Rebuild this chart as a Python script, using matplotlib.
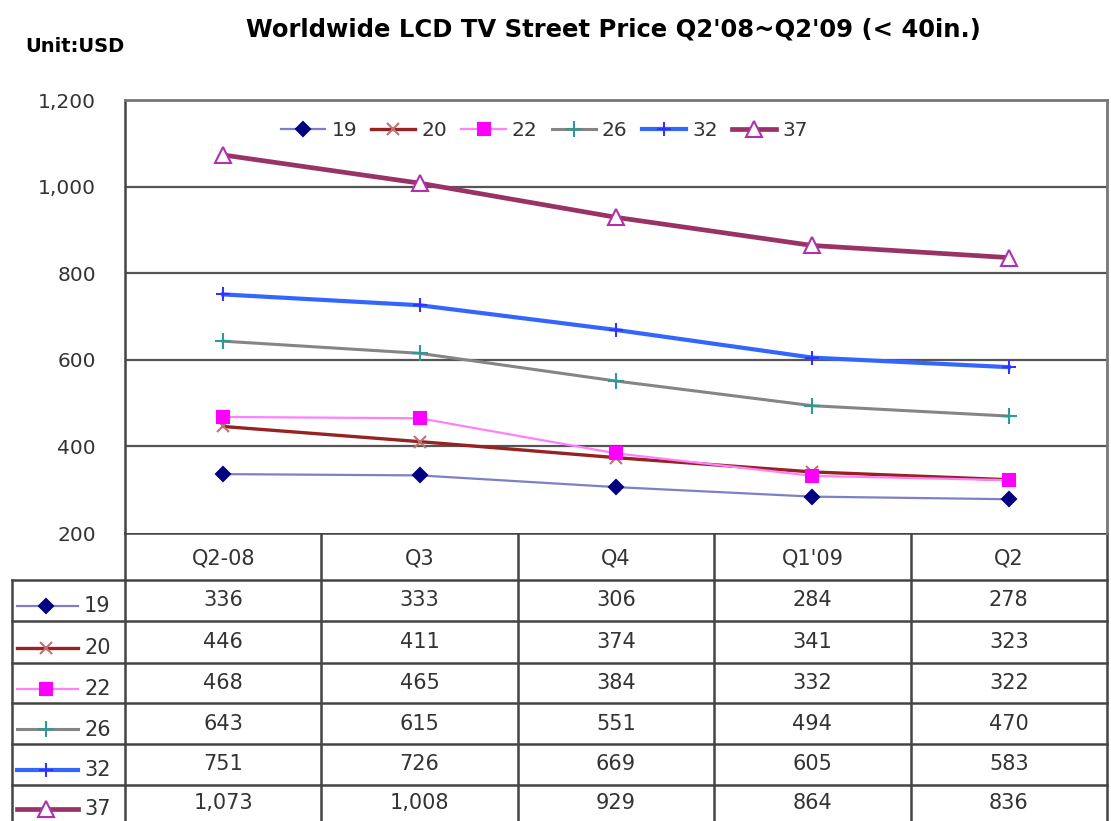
import matplotlib
matplotlib.use("Agg")
from matplotlib import pyplot as plt
from matplotlib.lines import Line2D

# data
quarters = ["Q2-08", "Q3", "Q4", "Q1'09", "Q2"]
sizes = ["19", "20", "22", "26", "32", "37"]
price_19 = [336, 333, 306, 284, 278]
price_20 = [446, 411, 374, 341, 323]
price_22 = [468, 465, 384, 332, 322]
price_26 = [643, 615, 551, 494, 470]
price_32 = [751, 726, 669, 605, 583]
price_37 = [1073, 1008, 929, 864, 836]
series = [price_19, price_20, price_22, price_26, price_32, price_37]

# line styles: (line colour, width, marker, marker size, marker face, marker edge)
styles = [
    ("#7f7fc8", 1.6, "D", 7, "#000080", "#000080"),
    ("#962222", 2.4, "x", 9, "#c07070", "#c07070"),
    ("#ff80ff", 1.6, "s", 9, "#ff00ff", "#ff00ff"),
    ("#858585", 2.2, "+", 11, "#2e9a96", "#2e9a96"),
    ("#3366ff", 3.0, "+", 10, "#3333ff", "#3333ff"),
    ("#993366", 3.4, "^", 11, "white", "#b030b0"),
]

W, H = 1111, 821
fig = plt.figure(figsize=(W / 100, H / 100), dpi=100)
plt.rcParams["font.family"] = "DejaVu Sans"

# pixel layout
left, right, top, bottom = 125, 1107, 100, 533
ax = fig.add_axes([left / W, 1 - bottom / H, (right - left) / W, (bottom - top) / H])

xs = list(range(len(quarters)))
for name, vals, st in zip(sizes, series, styles):
    col, lw, mk, ms, mfc, mec = st
    ax.plot(xs, vals, color=col, lw=lw, marker=mk, ms=ms, mfc=mfc, mec=mec,
            mew=1.5, label=name, zorder=3, clip_on=False)

ax.set_xlim(-0.5, len(quarters) - 0.5)
ax.set_ylim(200, 1200)
ax.set_yticks(range(200, 1201, 200))
ax.set_yticklabels([f"{v:,}" for v in range(200, 1201, 200)], fontsize=14.5, color="#333333")
ax.tick_params(axis="y", length=0, pad=21)
ax.set_xticks([])
for y in range(400, 1001, 200):
    ax.axhline(y, color="#555555", lw=1.6, zorder=1)
for s in ["top", "right"]:
    ax.spines[s].set_color("#777777")
    ax.spines[s].set_linewidth(2)
ax.spines["left"].set_color("#444444")
ax.spines["left"].set_linewidth(1.8)
ax.spines["bottom"].set_visible(False)

leg = ax.legend(ncol=6, loc="center", bbox_to_anchor=(0.427, 0.93), frameon=False,
                fontsize=14.5, handlelength=2.2, handletextpad=0.3, columnspacing=0.7,
                borderaxespad=0)
for t in leg.get_texts():
    t.set_color("#333333")

# title
fig.text(613 / W, 1 - 29 / H, "Worldwide LCD TV Street Price Q2'08~Q2'09 (< 40in.)",
         ha="center", va="center", fontsize=17.5, fontweight="bold")
fig.text(25 / W, 1 - 46 / H, "Unit:USD", ha="left", va="center", fontsize=14,
         fontweight="bold")

# data table below the chart
tax = fig.add_axes([0, 0, 1, 1], zorder=-1)
tax.set_xlim(0, W)
tax.set_ylim(H, 0)
tax.axis("off")

col_edges = [left + i * (right - left) / len(quarters) for i in range(len(quarters) + 1)]
row_edges = [533, 580, 621, 663, 703, 744, 785, 830]
lc = "#444444"
tax.plot([left, right], [row_edges[0]] * 2, color=lc, lw=1.8)
for y in row_edges[1:-1]:
    tax.plot([12, right], [y, y], color=lc, lw=1.8)
for x in col_edges:
    tax.plot([x, x], [row_edges[0], H], color=lc, lw=1.8)
tax.plot([12, 12], [row_edges[1], H], color=lc, lw=1.8)

for i, q in enumerate(quarters):
    cx = (col_edges[i] + col_edges[i + 1]) / 2
    tax.text(cx, (row_edges[0] + row_edges[1]) / 2 + 2, q, ha="center", va="center",
             fontsize=15, color="#333333")
    for r, vals in enumerate(series):
        cy = (row_edges[r + 1] + row_edges[r + 2]) / 2
        if r == len(series) - 1:
            cy = row_edges[r + 1] + 18
        tax.text(cx, cy, f"{vals[i]:,}", ha="center", va="center", fontsize=15,
                 color="#333333")

for r, (name, st) in enumerate(zip(sizes, styles)):
    col, lw, mk, ms, mfc, mec = st
    cy = (row_edges[r + 1] + row_edges[r + 2]) / 2 + 6
    if r == len(series) - 1:
        cy = row_edges[r + 1] + 24
    tax.add_line(Line2D([17, 46, 78], [cy, cy, cy], color=col, lw=lw, marker=mk,
                        markevery=[1], ms=ms, mfc=mfc, mec=mec, mew=1.5))
    tax.text(84, cy, name, ha="left", va="center", fontsize=15, color="#333333")

plt.savefig("out.png", dpi=100)
